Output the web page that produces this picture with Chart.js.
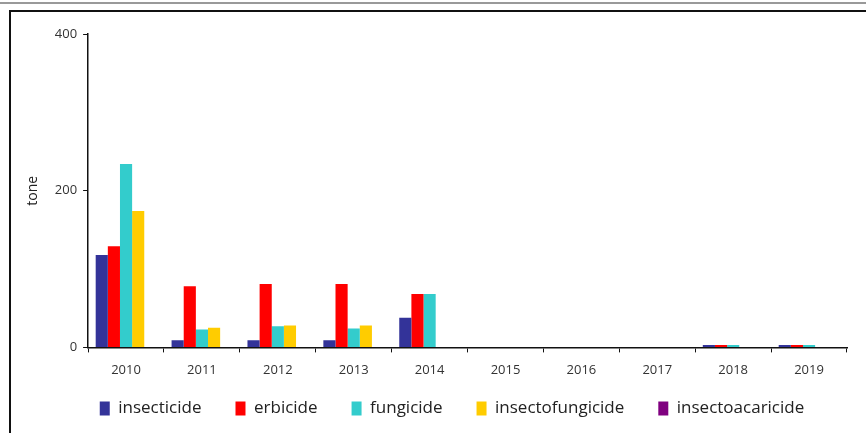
<!DOCTYPE html>
<html>
<head>
<meta charset="utf-8">
<script src="https://cdn.jsdelivr.net/npm/chart.js@4"></script>
<style>
  html, body { margin: 0; padding: 0; background: #fff; }
  #wrap { position: relative; width: 866px; height: 433px; overflow: hidden; }
  #topline { position: absolute; left: 0; top: 2px; width: 866px; height: 2px; background: #999; }
  #frame { position: absolute; left: 9px; top: 10px; width: 900px; height: 500px;
           border-left: 2px solid #111; border-top: 2px solid #111; }
  canvas { position: absolute; left: 0; top: 0; }
</style>
</head>
<body>
<div id="wrap">
  <div id="topline"></div>
  <div id="frame"></div>
  <canvas id="chart" width="866" height="433"></canvas>
</div>
<script>
const years = ['2010', '2011', '2012', '2013', '2014', '2015', '2016', '2017', '2018', '2019'];
const insecticide      = [118, 9, 9, 9, 38, 0, 0, 0, 3, 3];
const erbicide         = [129, 78, 81, 81, 68, 0, 0, 0, 3, 3];
const fungicide        = [234, 23, 27, 24, 68, 0, 0, 0, 3, 3];
const insectofungicide = [174, 25, 28, 28, 0, 0, 0, 0, 0, 0];
const insectoacaricide = [0, 0, 0, 0, 0, 0, 0, 0, 0, 0];
const yTicks = [0, 200, 400];

// legend padding is used for both the gap between items and above them;
// keep the wide gap but pull the row up closer to the axis (and a bit right)
const legendShift = {
    id: 'legendShift',
    beforeInit(chart) {
        const legend = chart.legend;
        const fit = legend.fit;
        const draw = legend.draw;
        legend.fit = function () {
            fit.call(this);
            this.height -= 22;
        };
        legend.draw = function () {
            const top = this.top, left = this.left, right = this.right;
            this.top -= 22;
            this.left += 18;
            this.right += 18;
            draw.call(this);
            this.top = top;
            this.left = left;
            this.right = right;
        };
    }
};

const ctx = document.getElementById('chart').getContext('2d');

window.chartInstance = new Chart(ctx, {
    type: 'bar',
    data: {
        labels: years,
        datasets: [
            { label: 'insecticide', data: insecticide, backgroundColor: '#333399' },
            { label: 'erbicide', data: erbicide, backgroundColor: '#ff0000' },
            { label: 'fungicide', data: fungicide, backgroundColor: '#33cccc' },
            { label: 'insectofungicide', data: insectofungicide, backgroundColor: '#ffcc00' },
            { label: 'insectoacaricide', data: insectoacaricide, backgroundColor: '#800080' }
        ]
    },
    plugins: [legendShift],
    options: {
        responsive: false,
        animation: false,
        datasets: {
            bar: { categoryPercentage: 0.8, barPercentage: 1.0, borderWidth: 0 }
        },
        layout: { padding: { left: 21, right: 19, top: 34, bottom: 6 } },
        plugins: {
            tooltip: { enabled: false },
            legend: {
                position: 'bottom',
                labels: {
                    boxWidth: 10,
                    boxHeight: 14,
                    padding: 34,
                    color: '#222',
                    font: { family: 'Open Sans', size: 17 }
                }
            }
        },
        scales: {
            x: {
                grid: {
                    drawOnChartArea: false,
                    drawTicks: true,
                    tickLength: 5,
                    color: '#111'
                },
                border: { display: true, color: '#111', width: 1.5 },
                ticks: {
                    color: '#333',
                    padding: 10,
                    font: { family: 'Open Sans', size: 13 }
                }
            },
            y: {
                min: 0,
                max: 400,
                afterBuildTicks: axis => { axis.ticks = yTicks.map(v => ({ value: v })); },
                title: {
                    display: true,
                    text: 'tone',
                    color: '#222',
                    padding: { top: 4, bottom: 7 },
                    font: { family: 'Open Sans', size: 14 }
                },
                grid: {
                    drawOnChartArea: false,
                    drawTicks: true,
                    tickLength: 5,
                    color: '#111'
                },
                border: { display: true, color: '#111', width: 1.5 },
                ticks: {
                    color: '#333',
                    padding: 6,
                    font: { family: 'Open Sans', size: 13 }
                }
            }
        }
    }
});
</script>
</body>
</html>
